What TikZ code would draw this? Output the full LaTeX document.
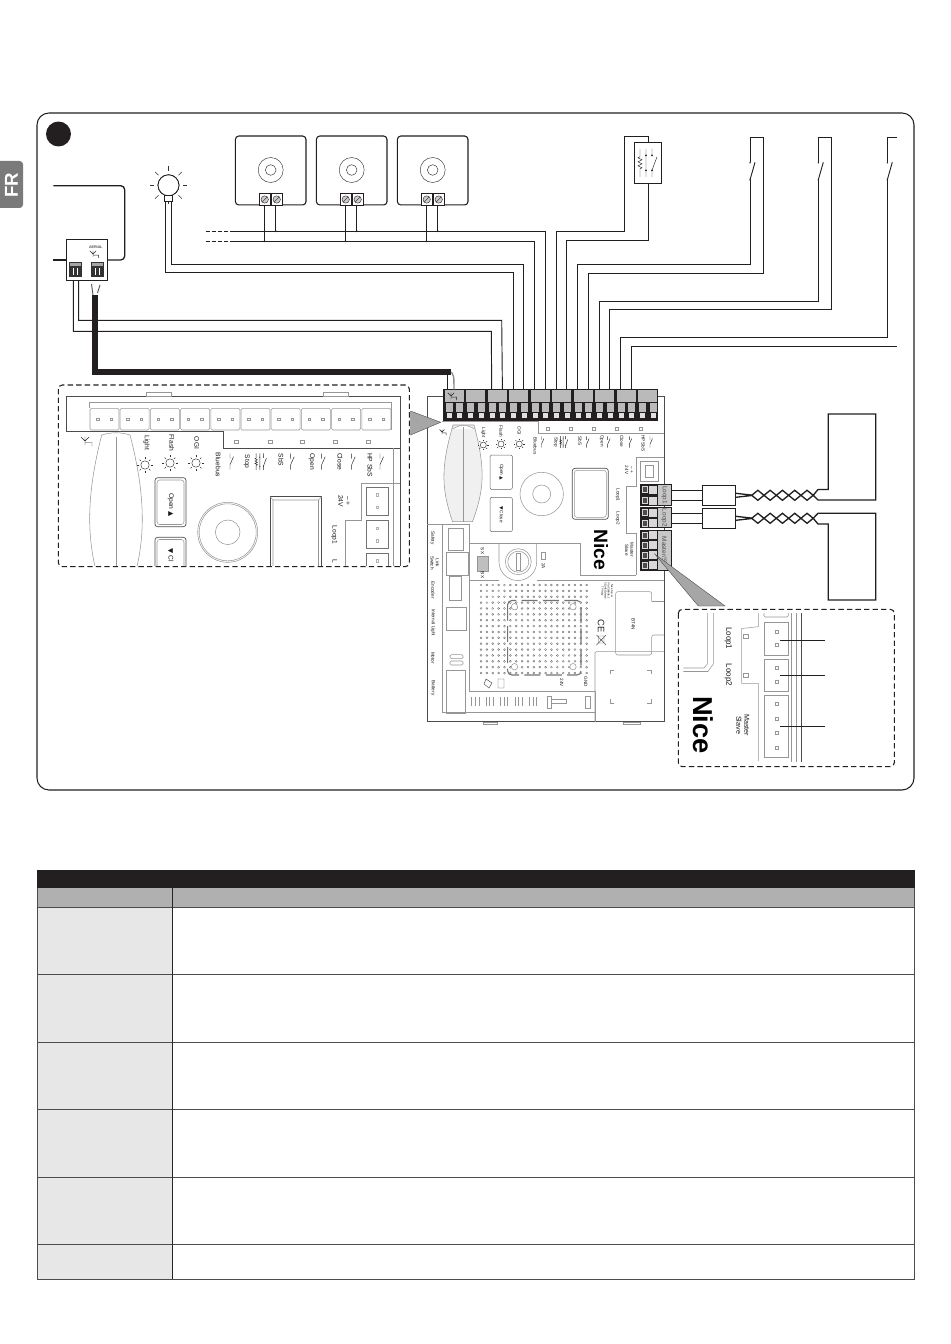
\documentclass[tikz,border=0pt]{standalone}
\usepackage{fontspec}
\setmainfont{Liberation Sans}
\newfontfamily\symfont{DejaVu Sans}
\usetikzlibrary{shapes.geometric, arrows.meta, positioning, fit, backgrounds}
\definecolor{niceink}{RGB}{35, 31, 32}
\definecolor{nicegrey}{RGB}{176, 176, 176}
\definecolor{nicepale}{RGB}{231, 231, 231}
\definecolor{niceline}{RGB}{150, 150, 150}
\tikzstyle{wire} = [line width=0.7pt, draw=niceink]
\tikzstyle{coil} = [line width=1pt, draw=niceink]
\tikzstyle{cable} = [line width=4.5pt, draw=niceink]
\tikzstyle{outline} = [line width=0.4pt, draw=niceline]
\tikzstyle{darkline} = [line width=0.5pt, draw=black!70]
\tikzstyle{dashframe} = [line width=0.8pt, draw=niceink, rounded corners=3pt, dash pattern=on 4pt off 2.4pt]
\tikzstyle{callout} = [fill=black!35, draw=black!70, line width=0.3pt]
\tikzstyle{devicebox} = [rectangle, rounded corners=2.5pt, draw=niceink, line width=0.8pt, minimum width=52.9pt, minimum height=51.7pt, inner sep=0pt]
\tikzstyle{plainbox} = [rectangle, draw=niceink, line width=0.7pt, inner sep=0pt]
\tikzstyle{swnode} = [inner sep=0pt, minimum width=0pt, minimum height=12.8pt]
\tikzstyle{tiny} = [rotate=-90, inner sep=0pt, font=\fontsize{3.5}{3.9}\selectfont, text=black!90, align=center]
\tikzstyle{small} = [rotate=-90, inner sep=0pt, font=\fontsize{5}{5.6}\selectfont, text=black!90, align=center]
\tikzstyle{medium} = [rotate=-90, inner sep=0pt, font=\fontsize{6}{6.4}\selectfont, text=black!90, align=center]
\tikzset{
  sunicon/.pic={
    \draw[line width=0.35pt, draw=black!80] (0,0) circle (3.5);
    \foreach \a in {0,45,...,315} \draw[line width=0.35pt, draw=black!80] (\a:4.7) -- (\a:6.3);
  },
  swicon/.pic={
    \fill[niceink] (0,-8.5) circle (0.8) (0,8.5) circle (0.8);
    \draw[wire] (0,8.5) -- (5,-9);
  },
  swmini/.pic={
    \draw[line width=0.35pt, draw=black!85] (0,-8) -- (0,-3) (0,3) -- (0,8) (0,3) -- (3.5,-5);
  },
  stopicon/.pic={
    \draw[line width=0.35pt, draw=black!85] (-8,-14) -- (-8,-6) -- (-10,-5) -- (-6,-3) -- (-10,-1) -- (-6,1) -- (-10,3) -- (-6,5) -- (-8,6) -- (-8,14);
    \draw[line width=0.35pt, draw=black!85] (-2,-14) -- (-2,14) (4,-14) -- (4,-7.5) (4,7.5) -- (4,14) (4,7.5) -- (9,-6);
    \fill[niceink] (-2,-7.5) circle (1) (-2,7.5) circle (1) (4,-7.5) circle (1) (4,7.5) circle (1);
  },
  aerialicon/.pic={
    \draw[line width=0.35pt, draw=black!85] (-4,-4) -- (0,0) -- (4,-4) (0,-4.5) -- (0,4) (0,1.5) -- (7,1.5) -- (7,5);
  },
  screwpair/.pic={
    \foreach \x in {-6,6} {
      \draw[line width=0.6pt, draw=niceink, fill=white] (\x-5.7,-6.2) rectangle (\x+5.7,6.2);
      \draw[line width=0.3pt, draw=niceink, fill=black!20] (\x,0) circle (3.7);
      \draw[line width=0.3pt, draw=niceink] (\x-2.5,2.5) -- (\x+2.5,-2.5);
    }
  },
  plugcell/.pic={
    \draw[line width=0.35pt, draw=black!55, fill=white] (-11,-14) rectangle (11,14);
    \draw[line width=0.3pt, draw=black!30, fill=white] (-1.2,-7.5) rectangle (1.2,-5.1);
    \draw[line width=0.3pt, draw=black!30, fill=white] (-1.2,5.1) rectangle (1.2,7.5);
  }
}
\begin{document}
\begin{tikzpicture}[x=0.75pt, y=-0.75pt]
    \useasboundingbox (0,0) rectangle (950,1344);
    % Side tab
    \fill[black!52, rounded corners=2.5pt] (-8,161) rectangle (23,208);
    \node[rotate=90, text=white, font=\bfseries\fontsize{14}{14}\selectfont, inner sep=0pt] (tabfr) at (11.5,185) {FR};
    % Frame
    \draw[line width=0.8pt, draw=niceink, rounded corners=9pt] (37,113) rectangle (914,790);
    \node[circle, fill=niceink, minimum size=18.7pt, inner sep=0pt] (badge) at (58.5,134) {};

    % Devices
    \foreach \n/\x in {1/270.7, 2/351.7, 3/432.7} {
        \node[devicebox] (device\n) at (\x,170.5) {};
        \draw[line width=0.35pt, draw=black!80] (\x,170) circle (12.5) (\x,170) circle (5.3);
        \pic at (\x,199.5) {screwpair};
    }
    \node[plainbox, minimum width=20.5pt, minimum height=30.7pt] (stopbox) at (648,162.8) {};
    \pic at (648,162.8) {stopicon};
    \node[swnode] (sw1) at (750,171.3) {};
    \node[swnode] (sw2) at (818.3,171.3) {};
    \node[swnode] (sw3) at (887.3,171.3) {};
    \pic at (sw1) {swicon};
    \pic at (sw2) {swicon};
    \pic at (sw3) {swicon};

    % Lamp
    \node[circle, draw=niceink, line width=0.6pt, minimum size=15.7pt, inner sep=0pt] (lamp) at (168.5,185.3) {};
    \pic[scale=3] at (lamp) {sunicon};
    \node[circle, draw=niceink, fill=white, line width=0.6pt, minimum size=15.7pt, inner sep=0pt] at (lamp) {};
    \node[rectangle, draw=niceink, fill=white, line width=0.5pt, minimum width=6pt, minimum height=5pt, inner sep=0pt] (socket) at (168.7,198.5) {};

    % Receiver
    \node[plainbox, minimum width=31pt, minimum height=30.5pt] (receiver) at (87,260.3) {};
    \node[inner sep=0pt, font=\fontsize{2.8}{3}\selectfont] (aerialtxt) at (95.7,247.2) {AERIAL};
    \pic[scale=0.8] at (93,254) {aerialicon};
    \foreach \x in {75.8,97.5} {
        \fill[black!80] (\x-6.5,261.7) rectangle (\x+6.5,276.7);
        \fill[black!35] (\x-5.5,263) rectangle (\x+5.5,266);
        \draw[white, line width=0.5pt] (\x-2,268) -- (\x-2,275) (\x+2,268) -- (\x+2,275);
    }
    \draw[coil, rounded corners=3pt] (53.3,185.7) -- (124.7,185.7) -- (124.7,260) -- (receiver.east |- 0,260);
    \draw[coil] (53.3,260) -- (receiver.west |- 0,260);

    % Main board
    \draw[darkline, line width=0.6pt] (443.3,396.7) -- (427.3,396.7) -- (427.3,721.7) -- (664,721.7) -- (664,396.7) -- (658.3,396.7);
    \draw[outline] (483,722) rectangle (497,724.5) (623,722) rectangle (640,724.5);
    \draw[outline] (441.7,421.7) -- (538.5,421.7) -- (538.5,433) -- (664,433);
    \foreach \x in {547.5,571,593.5,617,641} \draw[outline] (\x-1.3,427.7) rectangle (\x+1.3,430.3);
    \draw[outline, fill=black!6] (453,425) .. controls (440,470) and (442,490) .. (452.5,521.7) -- (472.5,521.7) .. controls (484,490) and (486,470) .. (474,425) -- cycle;
    \draw[outline, fill=white] (452,429) .. controls (463,424) and (464,424) .. (475,429);
    \draw[outline] (463.5,427) -- (463.5,521.7);
    \pic[scale=0.6] at (442,432) {aerialicon};
    \foreach \n/\x/\y/\t in {light/483.3/432.7/Light, flash/501/431.7/Flash, ogi/519.3/430.7/OGI, bus/535.3/446/Bluebus, stop/555.7/442/Stop, sbs/580/441/SbS, open/601.7/441/Open, close/621.7/441/Close, hpsbs/643.3/443.3/HP SbS, loopa/617.7/495/Loop1, loopb/617.7/518.3/Loop2, safety/432.5/538/Safety, encoder/433/590/Encoder, inlight/433/622.7/Internal Light, motor/433/658/Motor, battery/433/688/Battery, twoamp/543.5/566/2A, volt24/561.7/682.7/24V, gnd/585.7/681.7/GND, btmod/633.3/624/BT4N}
        \node[tiny] (bd\n) at (\x,\y) {\t};
    \node[tiny] (bdvolts) at (629,470) {– +\\24V};
    \node[tiny] (bdlink) at (435,563) {Link\\Switch};
    \node[tiny] (bdmaster) at (629.3,550) {Master\\Slave};
    \node[rotate=-90, inner sep=0pt, font=\bfseries\fontsize{14.5}{15}\selectfont] (bdnice) at (601,549.5) {Nice};
    \node[rotate=-90, inner sep=0pt, align=center, font=\fontsize{2}{2.4}\selectfont] (bdaddr) at (607,591) {Nice S.p.A.\\Via Callalta, 1\\31046 Oderzo\\TV Italy};
    \node[rotate=-90, inner sep=0pt, font=\fontsize{7}{7}\selectfont, text=black!85] (bdce) at (601,626) {CE};
    \draw[darkline, line width=0.35pt] (598.5,636) rectangle (604,643) (596.5,635) -- (606,645) (606,635) -- (596.5,645);
    \foreach \x/\y in {483.3/445, 501/444, 519.3/444} \pic[scale=0.85] at (\x,\y) {sunicon};
    \pic[scale=0.42] at (564,442) {stopicon};
    \foreach \x in {541.5,586.7,607.7,629.3,650} \pic[scale=0.7] at (\x,442) {swmini};
    \node[rectangle, rounded corners=1pt, draw=black!60, fill=white, line width=0.35pt, minimum width=16.7pt, minimum height=25.7pt, inner sep=0pt] (btnopen) at (501.2,472.2) {};
    \node[rectangle, rounded corners=1pt, draw=black!60, fill=white, line width=0.35pt, minimum width=16.7pt, minimum height=25.7pt, inner sep=0pt] (btnclose) at (501.2,514.5) {};
    \node[tiny] (btnopentxt) at (btnopen) {Open {\symfont▲}};
    \node[tiny] (btnclosetxt) at (btnclose) {{\symfont▼} Close};
    \draw[outline] (541.7,494) circle (21.7) (541.7,494) circle (9);
    \draw[darkline, line width=0.5pt, rounded corners=2pt] (572.3,468.3) rectangle (608.3,519.3);
    \draw[outline, rounded corners=2pt] (574.3,470.3) rectangle (606.3,517.3);
    \draw[outline] (640,461) rectangle (658.3,481) (645,465) -- (653,465) -- (653,477) -- (645,477) -- cycle;
    \draw[outline] (664,457) -- (636,457) -- (636,486.5) -- (626,486.5) -- (626,533) -- (636,533) -- (636,575) (580,575) -- (580,543) -- (470,543);
    \draw[outline] (580,575) -- (636,575);
    % Lower board
    \draw[outline] (442.7,524) -- (469.3,524) -- (469.3,691.7) -- (595,691.7) -- (595,721.7) (427.3,524) -- (442.7,524) -- (442.7,712) -- (595,712);
    \draw[outline] (469.3,580) -- (499,580) (536.7,580) -- (664,580);
    \draw[outline] (448.3,528) rectangle (463.3,550) (446.7,552) rectangle (468,575) (449,576) rectangle (461.7,600) (446,607.3) rectangle (466.7,630) (446,670) rectangle (465,713);
    \foreach \y in {656.7,663} \draw[outline, rounded corners=1pt] (450,\y-2) rectangle (463,\y+2);
    \draw[outline] (499,543) -- (499,561.7) arc (180:0:18.85) -- (536.7,543);
    \draw[outline] (518.3,561.7) circle (13) (518.3,561.7) circle (10.5);
    \draw[outline] (516.5,553) rectangle (520,570);
    \draw[outline, fill=black!25] (477,556) rectangle (488,571);
    \node[tiny] (swtop) at (482.5,551) {SX};
    \node[tiny] (swbot) at (482.5,575) {BX};
    \draw[outline] (541.5,552) rectangle (545,559);
    \foreach \i in {0,...,18} \foreach \j in {0,...,15}
        \draw[line width=0.25pt, draw=black!60] (481+5.87*\i,585+5.87*\j) circle (1);
    \draw[line width=0.8pt, draw=black!55, rounded corners=3pt, dash pattern=on 12pt off 4pt] (507.7,600.5) rectangle (581,675);
    \draw[outline, fill=white] (514.5,606.7) circle (3.2) (573,606.7) circle (3.2) (514.5,666.7) circle (3.2) (573,666.7) circle (3.2);
    \draw[outline, rounded corners=1.5pt] (651.7,601.7) -- (651.7,591.7) -- (615.7,591.7) -- (615.7,655) -- (651.7,655) -- (651.7,635) -- (664,635);
    \draw[outline] (651.7,601.7) -- (664,601.7);
    \draw[outline, rounded corners=1pt] (595,721.7) -- (595,651.7) -- (664,651.7);
    \foreach \x/\y/\a/\b in {610/670/1/1, 651/670/-1/1, 610/703/1/-1, 651/703/-1/-1} \draw[outline] (\x+4*\a,\y) -- (\x,\y) -- (\x,\y+4*\b);
    \foreach \x in {470,484,498,512,526} \draw[outline] (\x,697) grid[xstep=3.6, ystep=4.5] (\x+11,706);
    \draw[outline] (551,699) rectangle (566,703) (585,696) rectangle (590,708) (547,696) rectangle (551,708);
    \draw[darkline, line width=0.35pt] (486,679) -- (492,683) -- (489,688) -- (484,684) -- cycle (498,679) rectangle (504,688);

    % Terminal strip
    \fill[niceink] (443.3,389.3) rectangle (658.3,420.7);
    \foreach \g in {0,...,9} {
        \pgfmathsetmacro{\gx}{443.3+21.5*\g}
        \pgfmathtruncatemacro{\ta}{2*\g+1}
        \pgfmathtruncatemacro{\tb}{2*\g+2}
        \fill[black!27] (\gx+1.3,390.3) rectangle (\gx+20.2,401.5);
        \coordinate (term\ta) at (\gx+5.4,389.3);
        \coordinate (term\tb) at (\gx+16.1,389.3);
        \foreach \dx in {5.9,16.4} {
            \fill[black!27] (\gx+\dx-3.6,403) rectangle (\gx+\dx+3.6,411.7);
            \fill[black!12] (\gx+\dx-2.4,413) rectangle (\gx+\dx+2.4,417.7);
        }
    }
    \pic[scale=0.8] at (451,396) {aerialicon};

    % Wires
    \draw[wire] (socket.south -| 171.7,0) -- (171.7,264.3) -| (term8);
    \draw[wire] (socket.south -| 165.7,0) -- (165.7,272.3) -| (term7);
    \draw[wire, dash pattern=on 3pt off 1.5pt] (205.7,231.3) -- (233,231.3) (205.7,241.3) -- (233,241.3);
    \draw[wire] (233,231.3) -| (term10);
    \draw[wire] (233,241.3) -| (term9);
    \foreach \n/\x in {1/264.3, 2/345.3, 3/426.3} {
        \draw[wire] (\x,205) -- (\x,241.3);
        \draw[wire] (\x+11.5,205) -- (\x+11.5,231.3);
        \fill[niceink] (\x,241.3) circle (1) (\x+11.5,231.3) circle (1);
    }
    \draw[wire] (term11) |- (624.3,231.3) |- (648,136.7) -- (stopbox.north);
    \draw[wire] (term12) |- (648,240.3) -- (stopbox.south);
    \draw[wire] (term13) |- (750,264.3) -- (sw1.south);
    \draw[wire] (sw1.north) -- (750,137) -- (763.7,137) -- (763.7,273.3) -| (term14);
    \draw[wire] (term15) |- (818.3,301.7) -- (sw2.south);
    \draw[wire] (sw2.north) -- (818.3,137) -- (831.7,137) -- (831.7,309.3) -| (term16);
    \draw[wire] (term17) |- (887.3,337.3) -- (sw3.south);
    \draw[wire] (sw3.north) -- (887.3,137) -- (896.7,137);
    \coordinate (freeend) at (896.7,346.3);
    \draw[wire] (term18) |- (freeend);
    \draw[wire] (receiver.south -| 78.7,0) |- (501.7,320.3) -- (term6);
    \draw[wire] (receiver.south -| 73.3,0) |- (491.3,331.3) -- (term5);

    % Aerial cable
    \coordinate (cablea) at (95.3,295);
    \coordinate (cableb) at (450.7,371.7);
    \draw[cable] (cablea) |- (cableb);
    \draw[wire, draw=black!65] (93,295) -- (91.5,284) (97.5,293) -- (100,285);
    \draw[wire] (447.5,371.7) -- (447.5,389.3);
    \draw[line width=1pt, draw=black!45, rounded corners=1pt] (451.5,372) -- (453.8,377) -- (454,389.3);

    % Right blocks
    \foreach \n/\y/\h/\t in {loopa/495.2/22/Loop1, loopb/517.8/21/Loop2, master/550.3/40.7/{Master/Sl}} {
        \node[rectangle, fill=niceink, minimum width=23.7pt, minimum height=\h*0.75pt, inner sep=0pt] (\n) at (655.8,\y) {};
        \node[rotate=-90, fill=black!22, text=black!70, minimum width=\h*0.75pt-1.5pt, minimum height=9.5pt, inner sep=0pt, font=\fontsize{4.8}{5}\selectfont] (\n txt) at (664.3,\y) {\t};
    }
    \foreach \y in {489.5,500.5,512.5,523.2,535.3,545.3,555.3,565.3} {
        \fill[black!15] (648.5,\y-4) rectangle (657,\y+4);
        \draw[line width=0.4pt, draw=black!15, fill=black!70] (642.5,\y-3) rectangle (647,\y+3);
    }

    % Loop detectors
    \foreach \n/\y/\ya/\yb in {1/495.3/490/500, 2/518.3/513.3/523.3} {
        \node[plainbox, minimum width=24.7pt, minimum height=15.5pt] (ferrite\n) at (718.8,\y) {};
        \draw[wire] (671.7,\ya) -- (ferrite\n.west |- 0,\ya);
        \draw[wire] (671.7,\yb) -- (ferrite\n.west |- 0,\yb);
        \draw[coil] (ferrite\n.east |- 0,\y-2) -- (751.7,\y-0.2) (ferrite\n.east |- 0,\y+2) -- (751.7,\y+0.2);
        \foreach \i in {0,...,4}
            \draw[coil] (751.7+12.3*\i,\y) -- (757.85+12.3*\i,\y-5) -- (764+12.3*\i,\y) -- (757.85+12.3*\i,\y+5) -- cycle;
    }
    \coordinate (coilstart) at (813.2,495.3);
    \coordinate (coilend) at (813.2,518.3);
    \draw[coil] (coilstart) -- (818,489.5) -- (828.3,489.5) -- (828.3,414) -- (875.7,414) -- (875.7,500) -- (818,500) -- (coilstart);
    \draw[coil] (coilend) -- (818,513.3) -- (875.7,513.3) -- (875.7,600) -- (828.3,600) -- (828.3,524) -- (818,524) -- (coilend);

    % Left inset
    \fill[callout] (410.5,411) -- (440.7,422.3) -- (410.5,435) -- cycle;
    \begin{scope}
        \clip (60,387) rectangle (407,565.5);
        \draw[darkline] (66.7,432) -- (66.7,396.7) -- (400,396.7) -- (400,570);
        \draw[outline] (146,392) rectangle (171.7,396.7) (323.3,392) rectangle (348.7,396.7);
        \draw[outline] (89.3,402.7) -- (391.7,402.7) -- (391.7,430);
        \draw[outline] (89.3,402.7) -- (89.3,408);
        \foreach \i in {0,...,9} {
            \pgfmathsetmacro{\cx}{104.5+30.2*\i}
            \draw[outline, rounded corners=1pt] (\cx-14.5,408.3) rectangle (\cx+14.5,430);
            \draw[outline] (\cx-8,418) rectangle (\cx-5.5,420.5) (\cx+5.5,418) rectangle (\cx+8,420.5);
        }
        \draw[darkline, line width=0.35pt] (66.7,431.7) -- (223.3,431.7) -- (223.3,448.3) -- (400,448.3);
        \foreach \x in {236,270,302.5,335,368} \draw[outline] (\x-2,440.2) rectangle (\x+2,443.2);
        \draw[outline] (101.7,435) .. controls (85,500) and (88,540) .. (97,575) (130,435) .. controls (147,500) and (144,540) .. (135,575);
        \draw[outline] (101.7,435) .. controls (112,432) and (120,432) .. (130,435);
        \draw[outline] (116.7,437) -- (116.7,570);
        \pic at (85,441) {aerialicon};
        \foreach \n/\x/\y/\t in {light/146.7/443/Light, flash/171.7/443/Flash, ogi/196.7/443/OGI, bus/218.3/465/Bluebus, stop/246.7/461.7/Stop, sbs/281/460/SbS, open/311.7/461.7/Open, close/340/461.7/Close, hpsbs/370/465/HP SbS, loopa/334.3/535/Loop1}
            \node[small] (in\n) at (\x,\y) {\t};
        \node[small] (involts) at (344,501) {– +\\24V};
        \node[small] (inlb) at (335,561) {L};
        \foreach \x/\y in {145/465, 170/463, 196/463} \pic[scale=1.2] at (\x,\y) {sunicon};
        \pic[scale=0.6] at (261,461.7) {stopicon};
        \foreach \x in {230,290.7,321.7,351.7,380} \pic at (\x,461.7) {swmini};
        \draw[darkline, rounded corners=2pt] (155,477.7) rectangle (186,526.7) (155,537.3) rectangle (186,575);
        \draw[outline, rounded corners=2pt] (157,480) rectangle (184,524.5) (157,539.5) rectangle (184,575);
        \node[small] (inopen) at (170.7,505) {Open {\symfont▲}};
        \node[small] (incl) at (170.7,555) {{\symfont▼} Cl};
        \draw[outline] (227.7,532.3) circle (30) (227.7,532.3) circle (28.5) (227.7,532.3) circle (12.3);
        \draw[darkline, line width=0.6pt] (270,575) -- (270,496.7) -- (321.7,496.7) -- (321.7,575);
        \draw[outline] (273,575) -- (273,500) -- (318.5,500) -- (318.5,575) (270,496.7) -- (273,500) (321.7,496.7) -- (318.5,500);
        \pic at (377.2,500.8) {plugcell};
        \pic at (377.2,534.2) {plugcell};
        \pic at (377.2,567) {plugcell};
        \draw[outline] (400,483.3) -- (361.7,483.3) -- (361.7,520) -- (345,520) -- (345,570) (393.3,448.3) -- (393.3,570);
    \end{scope}
    \draw[dashframe] (58.3,385) rectangle (409.3,566.7);

    % Right inset
    \fill[callout] (655,554.3) -- (698.3,606) -- (725,606) -- cycle;
    \draw[outline] (713.3,613) -- (713.3,664) -- (708,671.5) -- (683.3,671.5) (707.3,613) -- (707.3,664) -- (704,668) -- (683.3,668);
    \draw[outline] (758.3,613) -- (758.3,626.7) -- (741.7,628.5) -- (741.7,683.3) -- (758.3,683.3) -- (758.3,761);
    \draw[outline] (743.5,634.5) rectangle (748,638.5) (743.5,673.3) rectangle (748,677.3);
    \draw[outline] (791,613) -- (791,761.7) (796.7,613) -- (796.7,761.7);
    \draw[darkline, line width=0.6pt] (801.7,613) -- (801.7,761.7);
    \draw[outline, rounded corners=1pt] (764,613) -- (764,617) -- (788.3,617) -- (788.3,613);
    \draw[outline] (764,622.7) rectangle (788.3,655) (764,659.3) rectangle (788.3,691.7) (764,695) rectangle (788.3,757.3);
    \foreach \y in {632,645,668,682,704,718.5,733,748} \draw[outline] (775,\y-1.5) rectangle (778,\y+1.5);
    \node[medium] (inloopa) at (728.3,638.3) {Loop1};
    \node[medium] (inloopb) at (728.3,675) {Loop2};
    \node[medium, font=\fontsize{5.4}{6}\selectfont] (inmaster) at (742.7,725) {Master\\Slave};
    \node[rotate=-90, inner sep=0pt, font=\bfseries\fontsize{20.5}{21}\selectfont] (innice) at (703.3,725) {Nice};
    \foreach \n/\y in {a/640, b/675.3, c/726.3} {
        \coordinate (pin\n) at (780,\y);
        \coordinate (end\n) at (825,\y);
        \draw[wire] (pin\n) -- (end\n);
    }
    \draw[dashframe] (678.3,609.3) rectangle (894.3,766.7);

    % Table
    \fill[niceink] (37,870) rectangle (914.5,888.3);
    \fill[nicegrey] (37,888.3) rectangle (914.5,907.3);
    \fill[nicepale] (37,907.3) rectangle (172.3,1279);
    \foreach \y in {907.3,974.3,1042.3,1109.3,1177,1244.3,1279}
        \draw[line width=0.55pt, draw=black!70] (37,\y) -- (914.5,\y);
    \draw[line width=0.55pt, draw=black!70] (37,888.3) -- (37,1279) (914.5,888.3) -- (914.5,1279);
    \draw[line width=0.7pt, draw=black!85] (172.3,888.3) -- (172.3,1279);
\end{tikzpicture}
\end{document}
